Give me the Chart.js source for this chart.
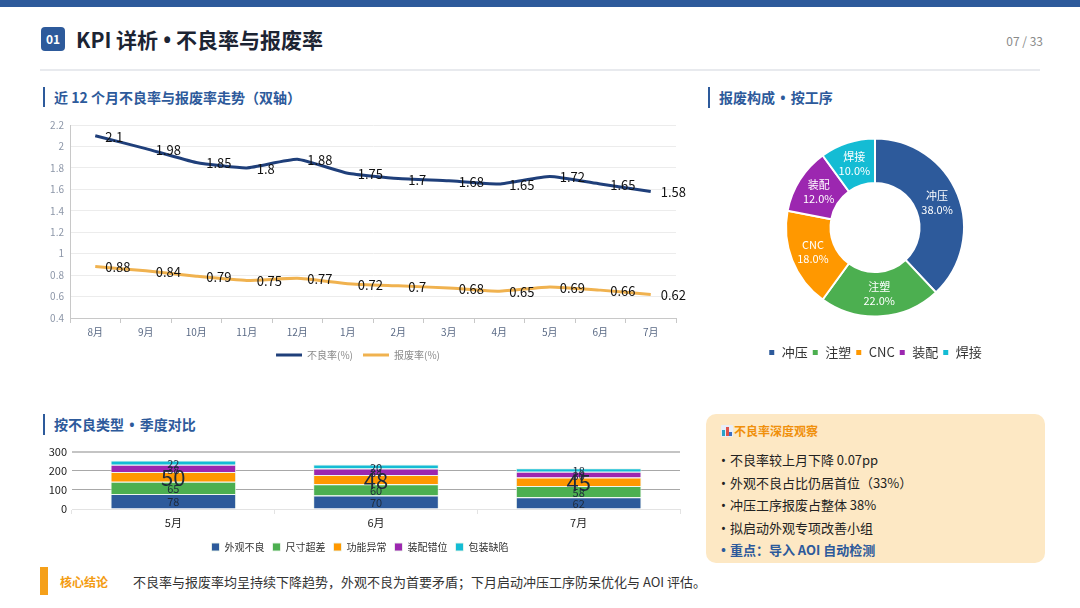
<!DOCTYPE html>
<html><head><meta charset="utf-8">
<script src="https://cdn.jsdelivr.net/npm/chart.js@4.4.1/dist/chart.umd.min.js"></script>
<style>
*{box-sizing:border-box;margin:0;padding:0}
body{width:1080px;height:608px;position:relative;background:#fff;font-family:"Noto Sans CJK SC","Noto Sans",sans-serif;overflow:hidden;color:#222}
.abs{position:absolute}
.dot{font-family:"Noto Sans",sans-serif;margin:0 2px}
.title .dot{margin:0 5px}
.topband{left:0;top:0;width:1080px;height:7px;background:#2d5a9b}
.badge{left:41px;top:27px;width:24px;height:24px;border-radius:4px;background:#2d5a9b;color:#fff;font-size:12px;font-weight:700;text-align:center;line-height:24px}
.title{left:76px;top:25px;font-size:21px;font-weight:700;color:#1c2433;line-height:28px;white-space:nowrap}
.page{right:37px;top:32px;font-size:12px;color:#8a8a8a;white-space:nowrap}
.sep{left:40px;top:69px;width:1000px;height:2px;background:#e8eaee}
.sh{font-size:14px;font-weight:700;color:#2d5a9b;line-height:20px;white-space:nowrap;padding-left:9px;border-left:2px solid #2d5a9b}
.box{left:706px;top:414px;width:339px;height:149px;border-radius:10px;background:#fde8c4}
.box .bt{position:absolute;left:15px;top:8px;font-size:12px;font-weight:700;color:#f0900c;white-space:nowrap;line-height:18px}
.box ul{position:absolute;left:15px;top:35px;list-style:none}
.box li{font-size:13px;line-height:22.6px;color:#222;white-space:nowrap}
.box li b{font-weight:400;margin-right:4px;font-family:"Noto Sans",sans-serif}
.box li.k{color:#2d5a9b;font-weight:700}
.box li.k b{font-weight:700}
.icon{display:inline-block;width:12px;height:12px;vertical-align:-1px;margin-right:1px;background:#e8eef8;position:relative;border-radius:1px}
.icon i{position:absolute;bottom:1px;width:3px}
.fbar{left:40px;top:567px;width:8px;height:28px;background:#f5a01a}
.fk{left:60px;top:573px;font-size:12px;font-weight:700;color:#f39c12;white-space:nowrap}
.ft{left:133px;top:572px;font-size:13px;color:#333;white-space:nowrap}
canvas{position:absolute}
</style></head>
<body>
<div class="abs topband"></div>
<div class="abs badge">01</div>
<div class="abs title">KPI 详析<span class="dot">•</span>不良率与报废率</div>
<div class="abs page">07 / 33</div>
<div class="abs sep"></div>
<div class="abs sh" style="left:43px;top:87px">近 12 个月不良率与报废率走势（双轴）</div>
<div class="abs sh" style="left:708px;top:87px">报废构成 <span class="dot">•</span> 按工序</div>
<div class="abs sh" style="left:43px;top:414px">按不良类型 <span class="dot">•</span> 季度对比</div>

<canvas id="lineC" width="650" height="260" style="left:40px;top:110px"></canvas>
<canvas id="barC" width="650" height="122" style="left:40px;top:440px"></canvas>
<canvas id="pieC" width="300" height="256" style="left:725px;top:113px"></canvas>

<div class="abs box">
  <div class="bt"><span class="icon"><i style="left:1px;height:6px;background:#2aa3c9"></i><i style="left:4.5px;height:9px;background:#e0504a"></i><i style="left:8px;height:4px;background:#3a6fc4"></i></span>不良率深度观察</div>
  <ul>
    <li><b>•</b>不良率较上月下降 0.07pp</li>
    <li><b>•</b>外观不良占比仍居首位（33%）</li>
    <li><b>•</b>冲压工序报废占整体 38%</li>
    <li><b>•</b>拟启动外观专项改善小组</li>
    <li class="k"><b>•</b>重点：导入 AOI 自动检测</li>
  </ul>
</div>

<div class="abs fbar"></div>
<div class="abs fk">核心结论</div>
<div class="abs ft">不良率与报废率均呈持续下降趋势，外观不良为首要矛盾；下月启动冲压工序防呆优化与 AOI 评估。</div>

<script>
// ---- data ----
const months = ['8月','9月','10月','11月','12月','1月','2月','3月','4月','5月','6月','7月'];
const defectRate = [2.1, 1.98, 1.85, 1.8, 1.88, 1.75, 1.7, 1.68, 1.65, 1.72, 1.65, 1.58];
const scrapRate  = [0.88, 0.84, 0.79, 0.75, 0.77, 0.72, 0.7, 0.68, 0.65, 0.69, 0.66, 0.62];
const lineYTicks = [0.4, 0.6, 0.8, 1, 1.2, 1.4, 1.6, 1.8, 2, 2.2];

const processes = ['冲压','注塑','CNC','装配','焊接'];
const processShare = [38, 22, 18, 12, 10];

const quarterMonths = ['5月','6月','7月'];
const defectTypes = ['外观不良','尺寸超差','功能异常','装配错位','包装缺陷'];
const appearance = [78, 70, 62];
const dimension  = [65, 60, 58];
const functional = [50, 48, 45];
const assembly   = [38, 34, 30];
const packaging  = [22, 20, 18];
const barYTicks = [0, 100, 200, 300];

const FONT = '"Noto Sans CJK SC","Noto Sans",sans-serif';
Chart.defaults.font.family = FONT;
Chart.defaults.animation = false;
Chart.defaults.responsive = false;
Chart.defaults.plugins.tooltip.enabled = false;

const C_BLUE='#2d5a9b', C_GREEN='#4caf50', C_ORANGE='#ff9800', C_PURPLE='#9c27b0', C_CYAN='#14bcd4';

// ---- line chart ----
const lineLabels = {id:'lineLabels', afterDatasetsDraw(chart){
  const ctx = chart.ctx; ctx.save();
  ctx.font = '13px ' + FONT; ctx.fillStyle = '#111'; ctx.textAlign='left'; ctx.textBaseline='middle';
  chart.data.datasets.forEach((ds,i)=>{
    chart.getDatasetMeta(i).data.forEach((pt,j)=>{ ctx.fillText(String(ds.data[j]), pt.x+10, pt.y+1); });
  });
  ctx.restore();
}};
const noStroke = chart => Chart.defaults.plugins.legend.labels.generateLabels(chart).map(l=>({...l, lineWidth:0}));

new Chart(document.getElementById('lineC'), {
  type:'line',
  data:{labels:months, datasets:[
    {label:'不良率(%)', data:defectRate, borderColor:'#1f3f7a', backgroundColor:'#1f3f7a', borderWidth:3, pointRadius:0, tension:0.15},
    {label:'报废率(%)', data:scrapRate, borderColor:'#f0b24f', backgroundColor:'#f0b24f', borderWidth:3, pointRadius:0, tension:0.15}
  ]},
  options:{
    layout:{padding:{top:15, right:14, left:0, bottom:0}},
    plugins:{legend:{position:'bottom', labels:{boxWidth:26, boxHeight:3, padding:10, color:'#8a8a8a', font:{size:10}, generateLabels:noStroke}}},
    scales:{
      x:{offset:true, grid:{offset:true, drawOnChartArea:false, tickLength:5, color:'#c8c8c8'}, border:{color:'#c8c8c8'},
         ticks:{color:'#5a6a85', font:{size:10}, padding:3}, afterFit(s){s.height=22;}},
      y:{min:0.4, max:2.2, afterBuildTicks(s){s.ticks = lineYTicks.map(v=>({value:v}));},
         ticks:{color:'#8c96a8', font:{size:10}, padding:6, callback:v=>String(+(+v).toFixed(1))},
         grid:{color:'#ececec', tickLength:0}, border:{color:'#c8c8c8'}, afterFit(s){s.width=30;}}
    }
  },
  plugins:[lineLabels]
});

// ---- stacked bar ----
const barLabels = {id:'barLabels', afterDatasetsDraw(chart){
  const ctx = chart.ctx; ctx.save();
  ctx.textAlign='center'; ctx.textBaseline='middle'; ctx.fillStyle='#1e2a3a';
  chart.data.datasets.forEach((ds,i)=>{
    ctx.font = (i===2 ? '22px ' : '11px ') + FONT;
    chart.getDatasetMeta(i).data.forEach((el,j)=>{
      const p = el.getProps(['x','y','base'], true);
      ctx.fillText(String(ds.data[j]), p.x, (p.y+p.base)/2 + 1);
    });
  });
  ctx.restore();
}};
const barSeries = [appearance, dimension, functional, assembly, packaging];
const barColors = [C_BLUE, C_GREEN, C_ORANGE, C_PURPLE, C_CYAN];
new Chart(document.getElementById('barC'), {
  type:'bar',
  data:{labels:quarterMonths, datasets: defectTypes.map((t,i)=>({
    label:t, data:barSeries[i], backgroundColor:barColors[i], borderColor:'rgba(235,245,235,0.9)', borderWidth:1,
    categoryPercentage:1, barPercentage:0.62
  }))},
  options:{
    layout:{padding:{top:4, right:10, left:0, bottom:0}},
    plugins:{legend:{position:'bottom', labels:{boxWidth:8, boxHeight:8, padding:8, color:'#333', font:{size:10}}}},
    scales:{
      x:{stacked:true, grid:{drawOnChartArea:false, tickLength:5, color:'#e3e3e3'}, border:{color:'#e3e3e3'},
         ticks:{color:'#222', font:{size:11}, padding:2}, afterFit(s){s.height=25;}},
      y:{stacked:true, min:0, max:300, afterBuildTicks(s){s.ticks = barYTicks.map(v=>({value:v}));},
         ticks:{color:'#222', font:{size:11}, padding:5},
         grid:{tickLength:0, color:c=>c.tick && c.tick.value===0 ? '#e3e3e3' : (c.tick && c.tick.value===300 ? '#c4c4c4' : '#a8a8a8'),
               lineWidth:c=>c.tick && c.tick.value===300 ? 2 : 1},
         border:{display:false}, afterFit(s){s.width=32;}}
    }
  },
  plugins:[barLabels]
});

// ---- doughnut ----
const pieLabels = {id:'pieLabels', afterDatasetsDraw(chart){
  const ctx = chart.ctx; ctx.save();
  ctx.textAlign='center'; ctx.textBaseline='middle'; ctx.fillStyle='#fff'; ctx.font='11px '+FONT;
  const ds = chart.data.datasets[0];
  chart.getDatasetMeta(0).data.forEach((el,j)=>{
    const p = el.tooltipPosition();
    ctx.fillText(chart.data.labels[j], p.x, p.y-7);
    ctx.fillText(ds.data[j].toFixed(1)+'%', p.x, p.y+7);
  });
  ctx.restore();
}};
new Chart(document.getElementById('pieC'), {
  type:'doughnut',
  data:{labels:processes, datasets:[{data:processShare, backgroundColor:[C_BLUE,C_GREEN,C_ORANGE,C_PURPLE,C_CYAN], borderColor:'#fff', borderWidth:2}]},
  options:{
    radius:89, cutout:'50%',
    layout:{padding:0},
    plugins:{legend:{position:'bottom', labels:{boxWidth:7, boxHeight:7, padding:4, color:'#333', font:{size:13}}}}
  },
  plugins:[pieLabels]
});
</script>
</body></html>
